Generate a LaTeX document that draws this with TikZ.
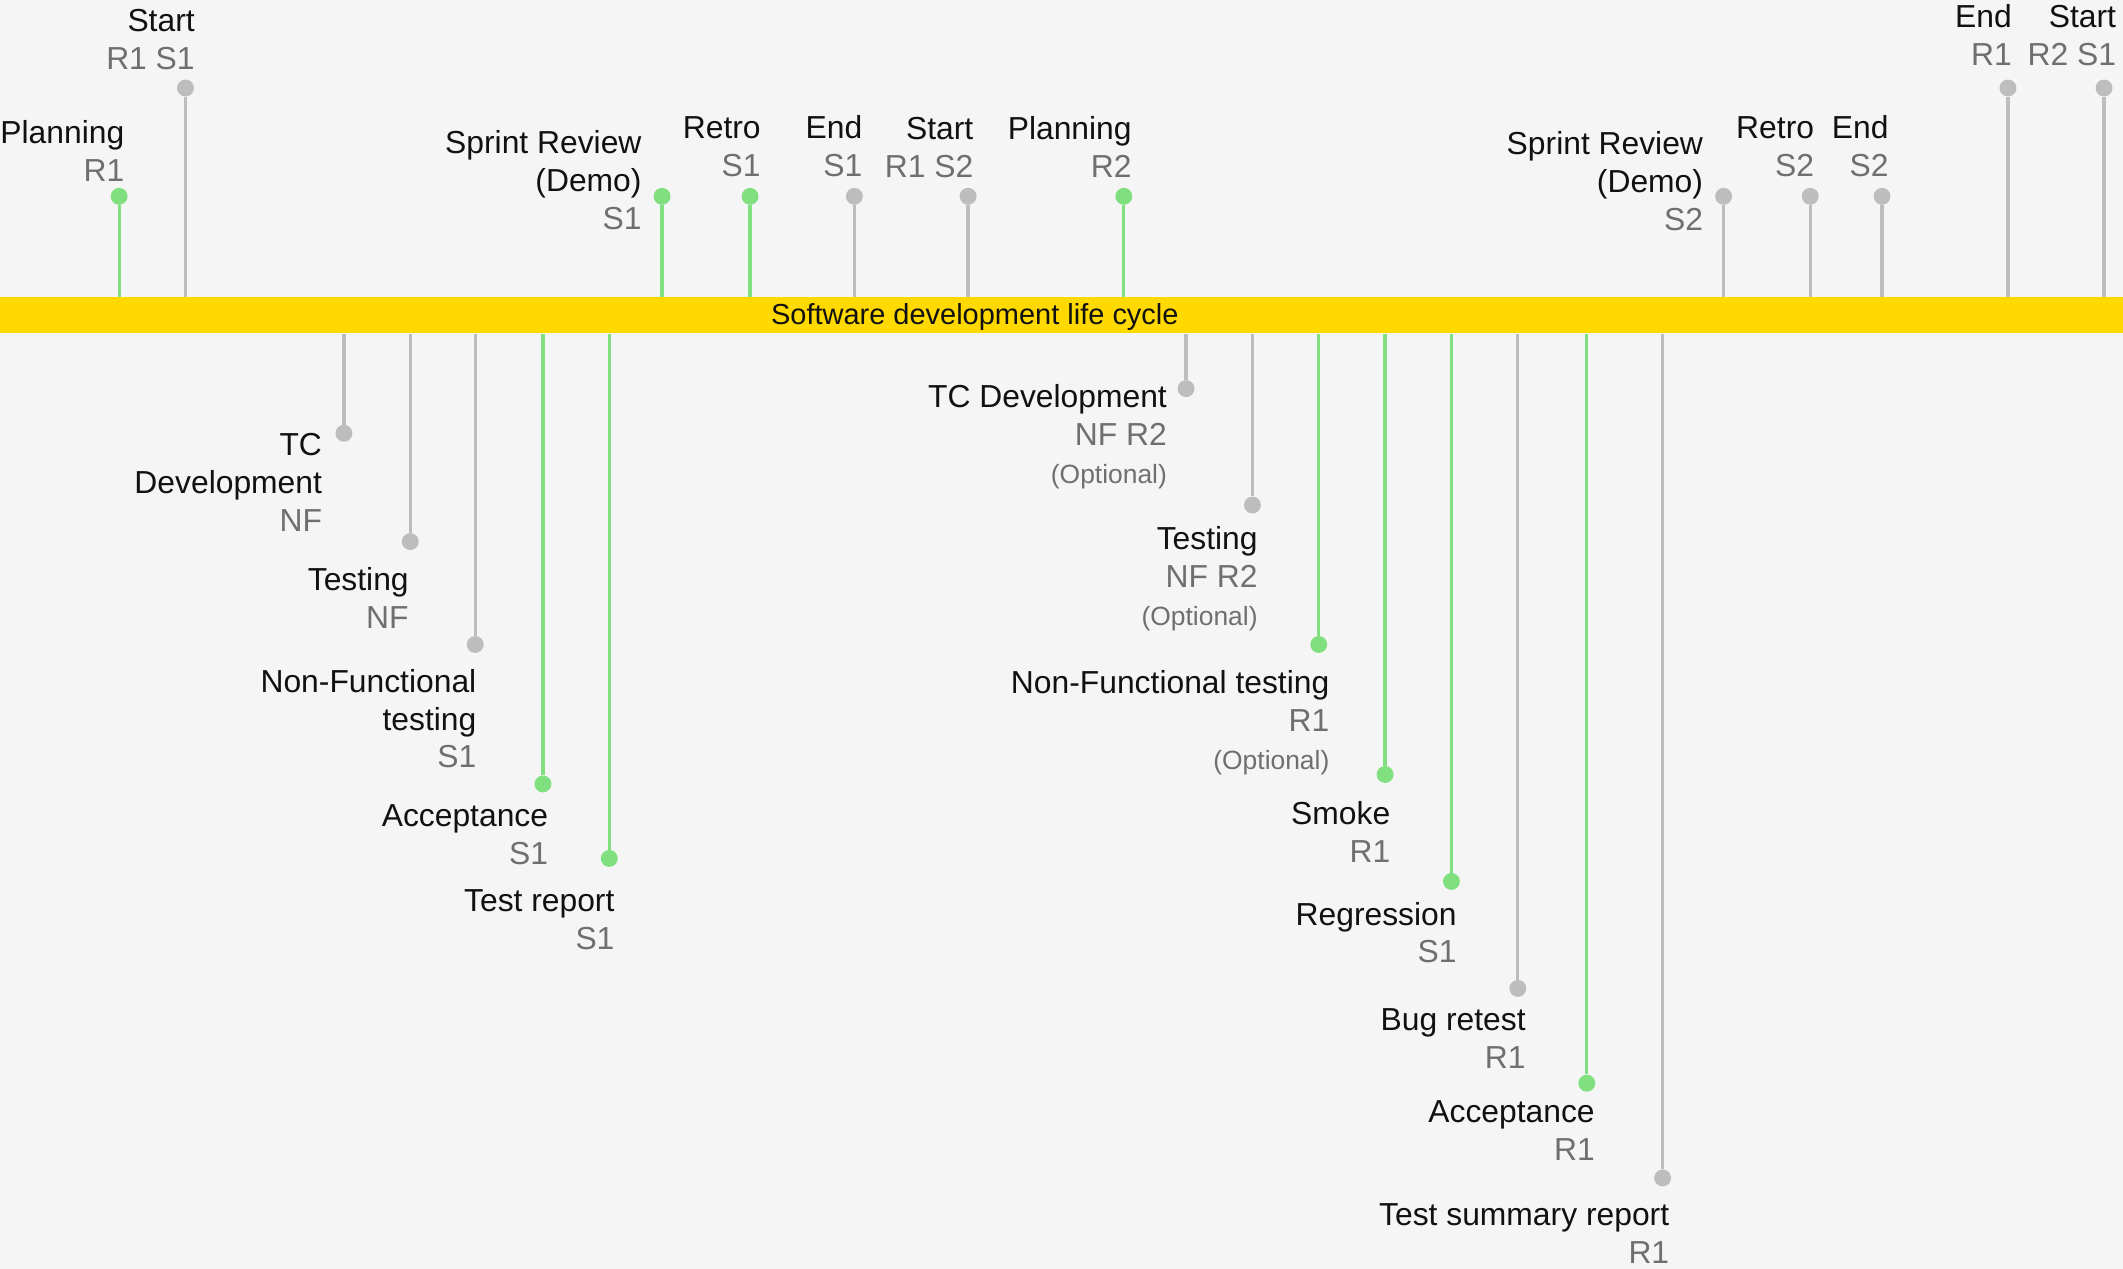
\documentclass[tikz,border=0pt]{standalone}
\usepackage{fontspec}
\setmainfont{Liberation Sans}
\definecolor{bg}{HTML}{F5F5F5}
\definecolor{barY}{HTML}{FFD900}
\definecolor{stemgray}{HTML}{BDBDBD}
\definecolor{stemgreen}{HTML}{80E080}
\definecolor{subgray}{HTML}{6F6F6F}
\definecolor{ink}{HTML}{111111}
\newcommand\subl[1]{\textcolor{subgray}{#1}}
\newcommand\optl{\textcolor{subgray}{\fontsize{19.5}{26}\selectfont(Optional)}}
\tikzset{
  lbl/.style={anchor=north east, inner sep=0pt, align=right, text=ink, font=\fontsize{23.5}{28}\selectfont},
  dotG/.style={circle, fill=stemgreen, minimum size=12.5pt, inner sep=0pt},
  dotS/.style={circle, fill=stemgray, minimum size=12.5pt, inner sep=0pt},
  stemG/.style={draw=stemgreen, line width=2.4pt},
  stemS/.style={draw=stemgray, line width=2.4pt},
}
\begin{document}
\begin{tikzpicture}[x=1pt,y=-1pt]
\fill[bg] (0,0) rectangle (1568,937);
\useasboundingbox (0,0) rectangle (1568,937);
\node[fill=barY, minimum width=1568pt, minimum height=27pt, anchor=north west, inner sep=0pt] (bar) at (0,219) {};
\node[text=ink, font=\fontsize{21.4}{25}\selectfont, inner sep=0pt] (title) at (720,234) {Software development life cycle};

% top dots
\node[dotG] (t1) at (88,145) {};
\node[dotS] (t2) at (137,65) {};
\node[dotG] (t3) at (489,145) {};
\node[dotG] (t4) at (554,145) {};
\node[dotS] (t5) at (631,145) {};
\node[dotS] (t6) at (715,145) {};
\node[dotG] (t7) at (830,145) {};
\node[dotS] (t8) at (1273,145) {};
\node[dotS] (t9) at (1337,145) {};
\node[dotS] (t10) at (1390,145) {};
\node[dotS] (t11) at (1483,65) {};
\node[dotS] (t12) at (1554,65) {};
\foreach \n/\s in {t1/stemG,t2/stemS,t3/stemG,t4/stemG,t5/stemS,t6/stemS,t7/stemG,t8/stemS,t9/stemS,t10/stemS,t11/stemS,t12/stemS}
  \draw[\s] (\n) -- (\n |- bar.north);

% bottom dots
\node[dotS] (b1) at (254,320) {};
\node[dotS] (b2) at (303,400) {};
\node[dotS] (b3) at (351,476) {};
\node[dotG] (b4) at (401,579) {};
\node[dotG] (b5) at (450,634) {};
\node[dotS] (b6) at (876,287) {};
\node[dotS] (b7) at (925,373) {};
\node[dotG] (b8) at (974,476) {};
\node[dotG] (b9) at (1023,572) {};
\node[dotG] (b10) at (1072,651) {};
\node[dotS] (b11) at (1121,730) {};
\node[dotG] (b12) at (1172,800) {};
\node[dotS] (b13) at (1228,870) {};
\foreach \n/\s in {b1/stemS,b2/stemS,b3/stemS,b4/stemG,b5/stemG,b6/stemS,b7/stemS,b8/stemG,b9/stemG,b10/stemG,b11/stemS,b12/stemG,b13/stemS}
  \draw[\s] (\n) -- (\n |- bar.south);

% top labels
\node[lbl] (lt1) at (92,86.4) {\strut Planning\\\subl{R1}};
\node[lbl] (lt2) at (144,3.4) {\strut Start\\\subl{R1 S1}};
\node[lbl] (lt3) at (474,93.4) {\strut Sprint Review\\(Demo)\\\subl{S1}};
\node[lbl] (lt4) at (562,82.4) {\strut Retro\\\subl{S1}};
\node[lbl] (lt5) at (637,82.4) {\strut End\\\subl{S1}};
\node[lbl] (lt6) at (719,83.4) {\strut Start\\\subl{R1 S2}};
\node[lbl] (lt7) at (836,83.4) {\strut Planning\\\subl{R2}};
\node[lbl] (lt8) at (1258,94.4) {\strut Sprint Review\\(Demo)\\\subl{S2}};
\node[lbl] (lt9) at (1340,82.4) {\strut Retro\\\subl{S2}};
\node[lbl] (lt10) at (1395,82.4) {\strut End\\\subl{S2}};
\node[lbl] (lt11) at (1486,0.4) {\strut End\\\subl{R1}};
\node[lbl] (lt12) at (1563,0.4) {\strut Start\\\subl{R2 S1}};

% bottom labels
\node[lbl] (lb1) at (238,316.4) {\strut TC\\Development\\\subl{NF}};
\node[lbl] (lb2) at (302,416.4) {\strut Testing\\\subl{NF}};
\node[lbl] (lb3) at (352,491.4) {\strut Non-Functional\\testing\\\subl{S1}};
\node[lbl] (lb4) at (405,590.4) {\strut Acceptance\\\subl{S1}};
\node[lbl] (lb5) at (454,653.4) {\strut Test report\\\subl{S1}};
\node[lbl] (lb6) at (862,281.4) {\strut TC Development\\\subl{NF R2}\\\optl};
\node[lbl] (lb7) at (929,386.4) {\strut Testing\\\subl{NF R2}\\\optl};
\node[lbl] (lb8) at (982,492.4) {\strut Non-Functional testing\\\subl{R1}\\\optl};
\node[lbl] (lb9) at (1027,589.4) {\strut Smoke\\\subl{R1}};
\node[lbl] (lb10) at (1076,663.4) {\strut Regression\\\subl{S1}};
\node[lbl] (lb11) at (1127,741.4) {\strut Bug retest\\\subl{R1}};
\node[lbl] (lb12) at (1178,809.4) {\strut Acceptance\\\subl{R1}};
\node[lbl] (lb13) at (1233,885.4) {\strut Test summary report\\\subl{R1}};
\end{tikzpicture}
\end{document}
